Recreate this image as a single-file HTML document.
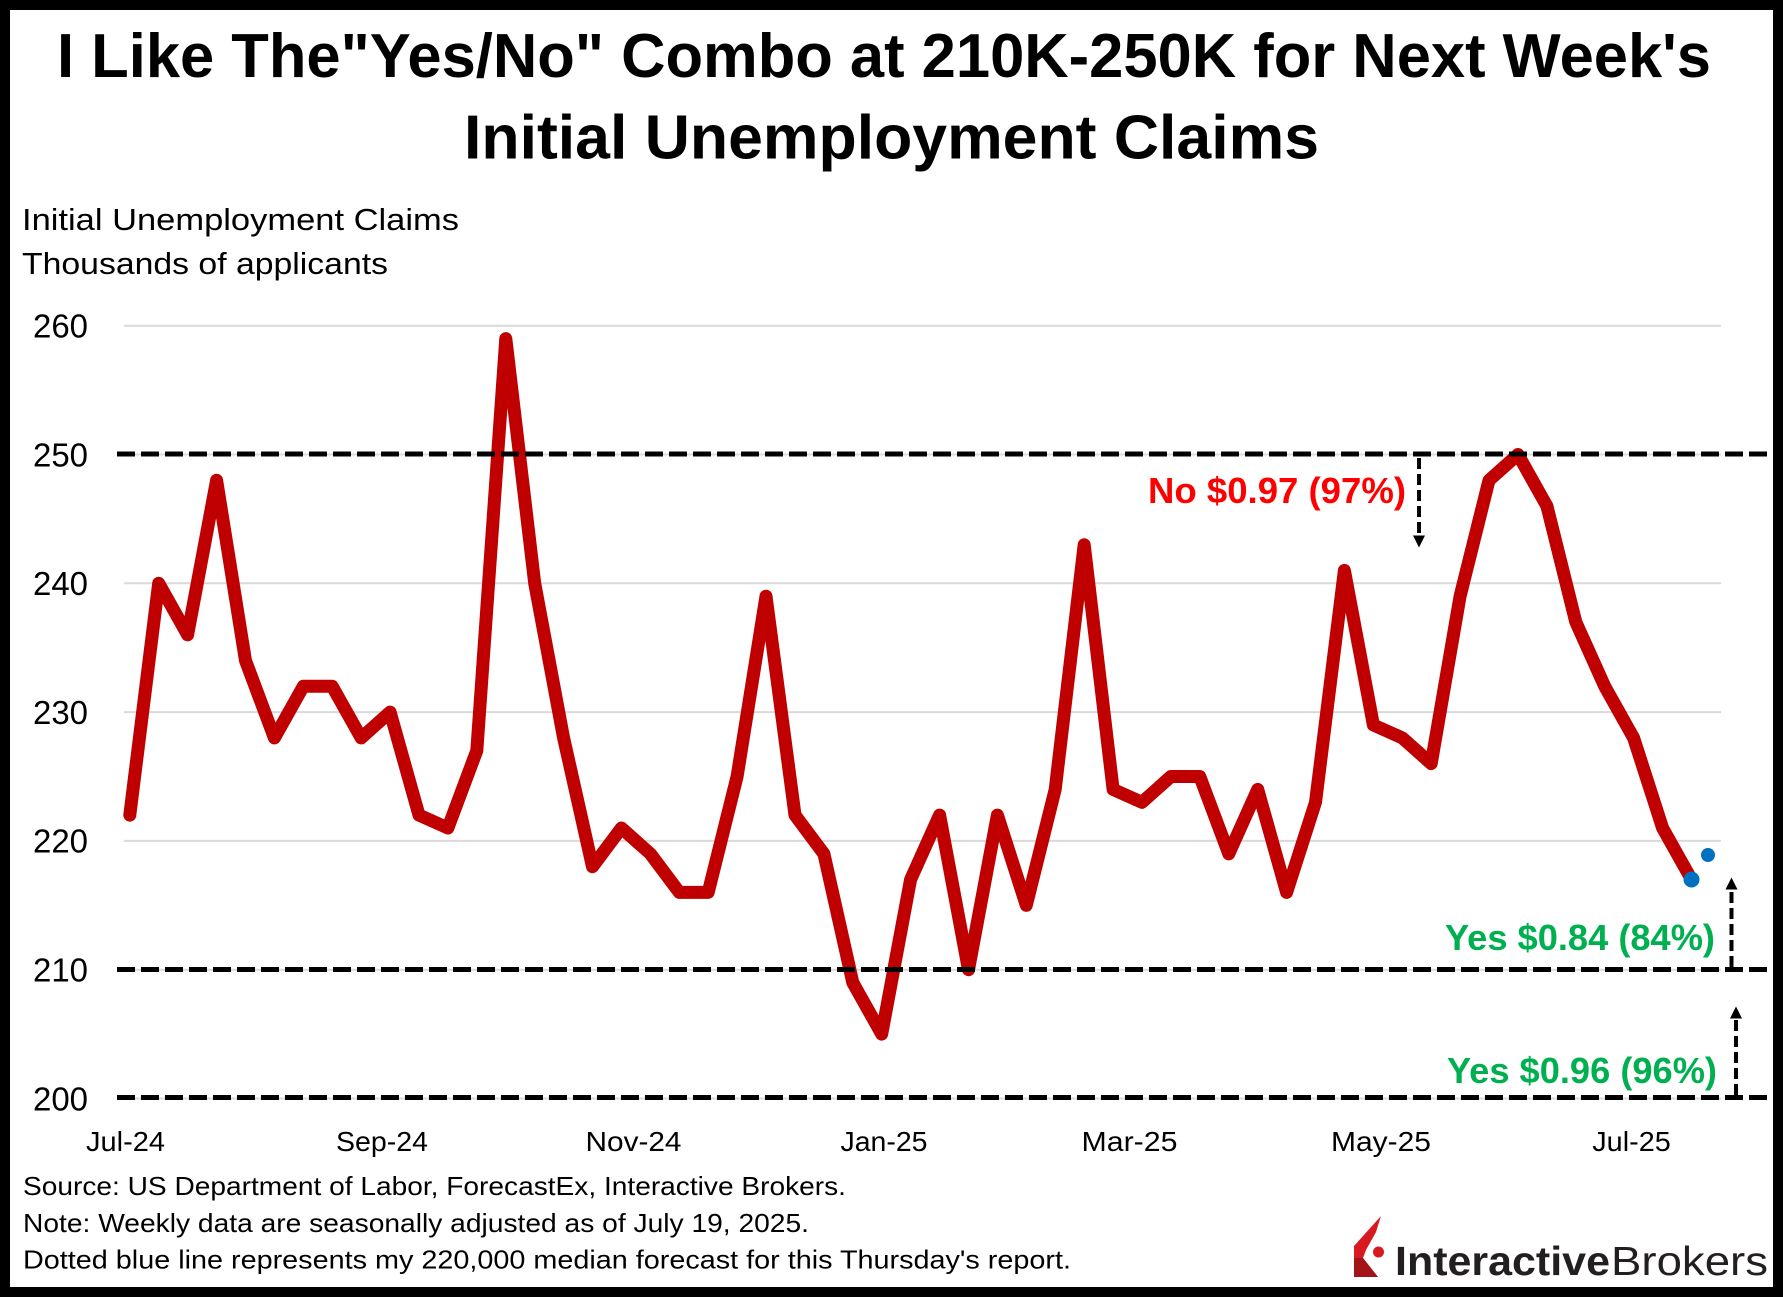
<!DOCTYPE html>
<html>
<head>
<meta charset="utf-8">
<style>
  html, body { margin: 0; padding: 0; background: #ffffff; }
  body { width: 1783px; height: 1297px; overflow: hidden; }
  svg { display: block; }
  text { font-family: "Liberation Sans", Arial, sans-serif; }
</style>
</head>
<body>
<svg width="1783" height="1297" viewBox="0 0 1783 1297" xmlns="http://www.w3.org/2000/svg">
  <rect x="0" y="0" width="1783" height="1297" fill="#ffffff"/>

  <!-- Title -->
  <text x="57" y="77" font-size="62" font-weight="bold" fill="#000" textLength="1654" lengthAdjust="spacingAndGlyphs">I Like The"Yes/No" Combo at 210K-250K for Next Week's</text>
  <text x="464" y="158.5" font-size="62" font-weight="bold" fill="#000" textLength="855" lengthAdjust="spacingAndGlyphs">Initial Unemployment Claims</text>

  <!-- Axis title -->
  <text x="22" y="230" font-size="31" fill="#000" textLength="437" lengthAdjust="spacingAndGlyphs">Initial Unemployment Claims</text>
  <text x="22" y="274" font-size="31" fill="#000" textLength="366" lengthAdjust="spacingAndGlyphs">Thousands of applicants</text>

  <!-- Gridlines -->
  <g stroke="#d9d9d9" stroke-width="2">
    <line x1="124" y1="325.7" x2="1721" y2="325.7"/>
    <line x1="124" y1="454.5" x2="1721" y2="454.5"/>
    <line x1="124" y1="583.3" x2="1721" y2="583.3"/>
    <line x1="124" y1="712.1" x2="1721" y2="712.1"/>
    <line x1="124" y1="840.9" x2="1721" y2="840.9"/>
    <line x1="124" y1="969.7" x2="1721" y2="969.7"/>
    <line x1="124" y1="1098.5" x2="1721" y2="1098.5"/>
  </g>

  <!-- Y labels -->
  <g font-size="33" fill="#000" text-anchor="end">
    <text x="88" y="337.5" textLength="55" lengthAdjust="spacingAndGlyphs">260</text>
    <text x="88" y="466.3" textLength="55" lengthAdjust="spacingAndGlyphs">250</text>
    <text x="88" y="595.1" textLength="55" lengthAdjust="spacingAndGlyphs">240</text>
    <text x="88" y="723.9" textLength="55" lengthAdjust="spacingAndGlyphs">230</text>
    <text x="88" y="852.7" textLength="55" lengthAdjust="spacingAndGlyphs">220</text>
    <text x="88" y="981.5" textLength="55" lengthAdjust="spacingAndGlyphs">210</text>
    <text x="88" y="1110.3" textLength="55" lengthAdjust="spacingAndGlyphs">200</text>
  </g>

  <!-- X labels -->
  <g font-size="28" fill="#000" text-anchor="middle">
    <text x="125.5" y="1151" textLength="79" lengthAdjust="spacingAndGlyphs">Jul-24</text>
    <text x="382" y="1151" textLength="92" lengthAdjust="spacingAndGlyphs">Sep-24</text>
    <text x="633.5" y="1151" textLength="96" lengthAdjust="spacingAndGlyphs">Nov-24</text>
    <text x="884" y="1151" textLength="87" lengthAdjust="spacingAndGlyphs">Jan-25</text>
    <text x="1129.5" y="1151" textLength="96" lengthAdjust="spacingAndGlyphs">Mar-25</text>
    <text x="1381" y="1151" textLength="100" lengthAdjust="spacingAndGlyphs">May-25</text>
    <text x="1631.5" y="1151" textLength="78.5" lengthAdjust="spacingAndGlyphs">Jul-25</text>
  </g>

  <!-- Data series -->
  <polyline fill="none" stroke="#c00000" stroke-width="13" stroke-linejoin="round" stroke-linecap="round"
    points="129.8,815.1 158.7,583.3 187.6,634.8 216.6,480.3 245.5,660.6 274.4,737.9 303.3,686.3 332.2,686.3 361.2,737.9 390.1,712.1 419.0,815.1 447.9,828.0 476.8,750.7 505.8,338.6 534.7,583.3 563.6,737.9 592.5,866.7 621.4,828.0 650.4,853.8 679.3,892.4 708.2,892.4 737.1,776.5 766.0,596.2 795.0,815.1 823.9,853.8 852.8,982.6 881.7,1034.1 910.6,879.5 939.6,815.1 968.5,969.7 997.4,815.1 1026.3,905.3 1055.2,789.4 1084.2,544.7 1113.1,789.4 1142.0,802.3 1170.9,776.5 1199.8,776.5 1228.8,853.8 1257.7,789.4 1286.6,892.4 1315.5,802.3 1344.4,570.4 1373.4,725.0 1402.3,737.9 1431.2,763.6 1460.1,596.2 1489.0,480.3 1518.0,454.5 1546.9,506.0 1575.8,622.0 1604.7,686.3 1633.6,737.9 1662.6,828.0 1691.5,879.5"/>

  <!-- Dashed threshold lines -->
  <g stroke="#000" stroke-width="5" stroke-dasharray="18,6" fill="none">
    <line x1="117" y1="454" x2="1768" y2="454"/>
    <line x1="117" y1="969.5" x2="1773" y2="969.5"/>
    <line x1="117" y1="1097.5" x2="1768" y2="1097.5"/>
  </g>

  <!-- Blue dots -->
  <circle cx="1691.5" cy="879.5" r="8" fill="#0070c0"/>
  <circle cx="1708" cy="855" r="7" fill="#0070c0"/>

  <!-- Arrows -->
  <g stroke="#000" stroke-width="4" stroke-dasharray="11,5" fill="none">
    <line x1="1419" y1="458" x2="1419" y2="536"/>
    <line x1="1731.5" y1="967" x2="1731.5" y2="890"/>
    <line x1="1736" y1="1095" x2="1736" y2="1019"/>
  </g>
  <g fill="#000">
    <polygon points="1413,535.5 1425,535.5 1419,547.5"/>
    <polygon points="1725.5,889.5 1737.5,889.5 1731.5,877.5"/>
    <polygon points="1730,1018.5 1742,1018.5 1736,1006.5"/>
  </g>

  <!-- Annotations -->
  <text x="1148" y="503" font-size="36.5" font-weight="bold" fill="#ff0000" textLength="258" lengthAdjust="spacingAndGlyphs">No $0.97 (97%)</text>
  <text x="1445" y="950" font-size="36" font-weight="bold" fill="#00b050" textLength="270" lengthAdjust="spacingAndGlyphs">Yes $0.84 (84%)</text>
  <text x="1447" y="1083" font-size="36" font-weight="bold" fill="#00b050" textLength="270" lengthAdjust="spacingAndGlyphs">Yes $0.96 (96%)</text>

  <!-- Footnotes -->
  <g font-size="26" fill="#000">
    <text x="23" y="1195" textLength="823" lengthAdjust="spacingAndGlyphs">Source: US Department of Labor, ForecastEx, Interactive Brokers.</text>
    <text x="23" y="1232" textLength="786" lengthAdjust="spacingAndGlyphs">Note: Weekly data are seasonally adjusted as of July 19, 2025.</text>
    <text x="23" y="1268.5" textLength="1048" lengthAdjust="spacingAndGlyphs">Dotted blue line represents my 220,000 median forecast for this Thursday's report.</text>
  </g>

  <!-- Logo -->
  <g>
    <polygon points="1381,1216 1376,1232 1366,1250 1363,1258 1378,1277 1354,1277 1354,1246" fill="#d71920"/>
    <polygon points="1354,1258 1363,1258 1378,1277 1354,1277" fill="#a3141a"/>
    <circle cx="1378.5" cy="1252" r="5.5" fill="#d71920"/>
    <text x="1395" y="1275" font-size="41" font-weight="bold" fill="#231f20" textLength="215" lengthAdjust="spacingAndGlyphs">Interactive</text>
    <text x="1611" y="1275" font-size="41" fill="#231f20" textLength="157" lengthAdjust="spacingAndGlyphs">Brokers</text>
  </g>

  <!-- Outer border -->
  <rect x="5" y="5" width="1773" height="1287" fill="none" stroke="#000" stroke-width="10"/>
</svg>
</body>
</html>
